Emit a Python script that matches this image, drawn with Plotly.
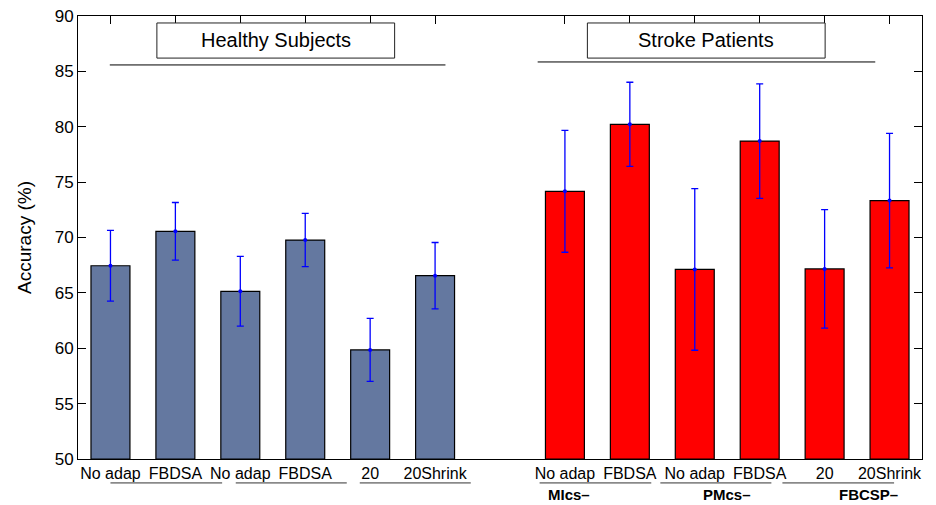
import plotly.graph_objects as go

# ---- data ----
healthy_labels = ["No adap", "FBDSA", "No adap", "FBDSA", "20", "20Shrink"]
healthy_acc = [67.45, 70.56, 65.14, 69.77, 59.85, 66.55]
healthy_err = [3.2, 2.6, 3.15, 2.4, 2.85, 3.0]

stroke_labels = ["No adap", "FBDSA", "No adap", "FBDSA", "20", "20Shrink"]
stroke_acc = [74.17, 80.22, 67.12, 78.71, 67.16, 73.33]
stroke_err = [5.5, 3.8, 7.3, 5.17, 5.35, 6.08]

group_labels = ["MIcs\u2013", "PMcs\u2013", "FBCSP\u2013"]
panel_titles = ["Healthy Subjects", "Stroke Patients"]

# category slots (a one-slot gap between the two groups)
healthy_x = [1, 2, 3, 4, 5, 6]
stroke_x = [8, 9, 10, 11, 12, 13]

FONT = "Liberation Sans, Arial, Helvetica, sans-serif"
BLUE_BAR = "rgb(100,120,160)"

fig = go.Figure()
fig.add_trace(go.Bar(x=healthy_x, y=[a - 50 for a in healthy_acc], base=50, width=0.6,
                     marker=dict(color=BLUE_BAR, line=dict(color="black", width=1.2)),
                     showlegend=False, hoverinfo="skip"))
fig.add_trace(go.Bar(x=stroke_x, y=[a - 50 for a in stroke_acc], base=50, width=0.6,
                     marker=dict(color="#ff0000", line=dict(color="black", width=1.2)),
                     showlegend=False, hoverinfo="skip"))
fig.add_trace(go.Scatter(x=healthy_x + stroke_x, y=healthy_acc + stroke_acc, mode="markers",
                         marker=dict(color="#0000ff", size=4),
                         error_y=dict(type="data", array=healthy_err + stroke_err,
                                      color="#0000ff", thickness=1.3, width=3.5),
                         showlegend=False, hoverinfo="skip", cliponaxis=False))

shapes = []
# underlines under tick-label pairs
underlines = [(1.0, 2.72), (2.93, 4.64), (4.84, 6.55),
              (7.61, 9.33), (9.47, 11.18), (11.35, 13.07)]
for x0, x1 in underlines:
    shapes.append(dict(type="line", xref="x", yref="paper", x0=x0, x1=x1,
                       y0=-0.054, y1=-0.054, line=dict(color="#333", width=1)))
# title boxes and lines beneath them
boxes = [(1.715, 5.377), (8.346, 12.008)]
for x0, x1 in boxes:
    shapes.append(dict(type="rect", xref="x", yref="y", x0=x0, x1=x1, y0=86.2, y1=89.37,
                       line=dict(color="#222", width=1), fillcolor="white"))
panel_lines = [(0.99, 6.16, 85.58), (7.58, 12.78, 85.85)]
for x0, x1, yy in panel_lines:
    shapes.append(dict(type="line", xref="x", yref="y", x0=x0, x1=x1, y0=yy, y1=yy,
                       line=dict(color="black", width=1)))

annotations = []
for (x0, x1), t in zip(boxes, panel_titles):
    annotations.append(dict(x=(x0 + x1) / 2, y=87.8, xref="x", yref="y", text=t,
                            showarrow=False, font=dict(family=FONT, size=20, color="black")))
group_x = [8.07, 10.5, 12.67]
for gx, g in zip(group_x, group_labels):
    annotations.append(dict(x=gx, y=-0.081, xref="x", yref="paper", text="<b>%s</b>" % g,
                            showarrow=False, yanchor="middle",
                            font=dict(family=FONT, size=15, color="black")))

# the page body adds an 8px offset, so the figure is sized/margined to compensate
fig.update_layout(
    width=928, height=497,
    margin=dict(l=70, r=14, t=8, b=46, autoexpand=False),
    plot_bgcolor="white", paper_bgcolor="white",
    font=dict(family=FONT, color="black"),
    barmode="overlay",
    shapes=shapes, annotations=annotations,
    xaxis=dict(range=[0.5, 13.5], tickvals=healthy_x + stroke_x,
               ticktext=healthy_labels + stroke_labels,
               tickfont=dict(size=16, family=FONT, color="black"),
               ticks="inside", ticklen=8, tickcolor="black", mirror="ticks",
               showline=True, linecolor="black", linewidth=1, showgrid=False,
               zeroline=False, layer="below traces", automargin=False,
               ticklabeloverflow="allow"),
    yaxis=dict(range=[50, 90], dtick=5, tickfont=dict(size=17, family=FONT, color="black"),
               ticks="inside", ticklen=8, tickcolor="black", mirror="ticks",
               showline=True, linecolor="black", linewidth=1, showgrid=False,
               zeroline=False, automargin=False, ticklabeloverflow="allow",
               title=dict(text="Accuracy (%)", font=dict(size=19, family=FONT, color="black"),
                          standoff=18)),
)

fig.write_html("out.html")
